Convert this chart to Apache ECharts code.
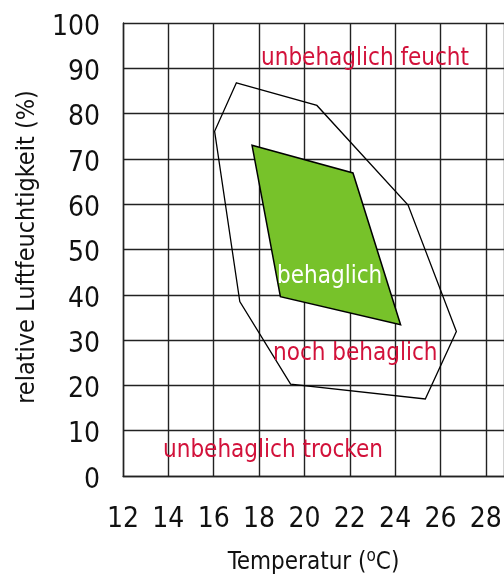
<!DOCTYPE html>
<html>
<head>
<meta charset="utf-8">
<script src="https://cdn.jsdelivr.net/npm/echarts@6/dist/echarts.min.js"></script>
<style>
  html, body { margin: 0; padding: 0; background: #fff; }
  #chart { width: 504px; height: 576px; }
</style>
</head>
<body>
<div id="chart"></div>
<script>
// Behaglichkeitsfeld: Temperatur / relative Luftfeuchte
var xTicks = [12, 14, 16, 18, 20, 22, 24, 26, 28]
var yTicks = [0, 10, 20, 30, 40, 50, 60, 70, 80, 90, 100]

// noch behaglich (Umriss)
var outerTemp = [17.0, 20.55, 24.57, 26.7, 25.33, 19.39, 17.15, 16.04]
var outerHum = [86.8, 81.8, 59.8, 31.9, 17.0, 20.3, 38.5, 76.1]

// behaglich (gruene Flaeche)
var comfortTemp = [17.69, 22.14, 24.24, 18.94]
var comfortHum = [73.0, 66.9, 33.4, 39.6]

var FONT = '"DejaVu Sans Condensed", "Liberation Sans Narrow", sans-serif'
var RED = '#d2113a'
var GRID_LINE = { color: '#222', width: 1.4 }

function polygonItem(xs, ys, style) {
  return function(params, api) {
    var pts = xs.map(function(x, i) {
      return api.coord([x, ys[i]])
    })
    return {
      type: 'polygon',
      shape: { points: pts },
      style: style
    }
  }
}

var chart = echarts.init(document.getElementById('chart'))
chart.setOption({
  backgroundColor: '#fff',
  animation: false,
  grid: {
    left: 123,
    top: 23,
    right: 0,
    bottom: 100,
    containLabel: false,
    outerBoundsMode: 'none'
  },
  xAxis: {
    type: 'value',
    min: 12,
    max: 28.8,
    interval: 2,
    name: '{t|Temperatur (}{s|o}{t|C)}',
    nameLocation: 'middle',
    nameGap: 72,
    nameTextStyle: {
      rich: {
        t: { fontFamily: FONT, fontSize: 24, color: '#111' },
        s: { fontFamily: FONT, fontSize: 17, color: '#111', verticalAlign: 'top', padding: [0, 0, 12, 0] }
      }
    },
    axisLine: { show: true, lineStyle: GRID_LINE },
    axisTick: { show: false },
    axisLabel: {
      margin: 30,
      fontFamily: FONT,
      fontSize: 28,
      color: '#111',
      formatter: function(v) {
        return xTicks.indexOf(v) >= 0 ? String(v) : ''
      }
    },
    splitLine: { show: true, lineStyle: GRID_LINE }
  },
  yAxis: {
    type: 'value',
    min: 0,
    max: 100,
    interval: 10,
    axisLine: { show: true, lineStyle: GRID_LINE },
    axisTick: { show: false },
    axisLabel: {
      margin: 23,
      color: '#111',
      formatter: function(v) {
        return yTicks.indexOf(v) >= 0 ? '{n|' + v + '}' : ''
      },
      rich: {
        n: { fontFamily: FONT, fontSize: 28, color: '#111', padding: [9, 0, 0, 0] }
      }
    },
    splitLine: { show: true, lineStyle: GRID_LINE }
  },
  series: [
    {
      type: 'custom',
      name: 'noch behaglich',
      data: [[outerTemp[0], outerHum[0]]],
      renderItem: polygonItem(outerTemp, outerHum, {
        fill: 'none',
        stroke: '#000',
        lineWidth: 1.3
      }),
      z: 3
    },
    {
      type: 'custom',
      name: 'behaglich',
      data: [[comfortTemp[0], comfortHum[0]]],
      renderItem: polygonItem(comfortTemp, comfortHum, {
        fill: '#77c22a',
        stroke: '#000',
        lineWidth: 1.5
      }),
      z: 4
    }
  ],
  graphic: [
    {
      type: 'text',
      x: 27,
      y: 247,
      rotation: Math.PI / 2,
      style: {
        text: 'relative Luftfeuchtigkeit (%)',
        fontFamily: FONT,
        fontSize: 25,
        fill: '#111',
        align: 'center',
        verticalAlign: 'middle'
      }
    },
    {
      type: 'text',
      x: 261,
      y: 59,
      z: 10,
      style: { text: 'unbehaglich feucht', fontFamily: FONT, fontSize: 24, fill: RED, verticalAlign: 'middle' }
    },
    {
      type: 'text',
      x: 163,
      y: 451,
      z: 10,
      style: { text: 'unbehaglich trocken', fontFamily: FONT, fontSize: 24, fill: RED, verticalAlign: 'middle' }
    },
    {
      type: 'text',
      x: 273,
      y: 354,
      z: 10,
      style: { text: 'noch behaglich', fontFamily: FONT, fontSize: 24, fill: RED, verticalAlign: 'middle' }
    },
    {
      type: 'text',
      x: 277,
      y: 277,
      z: 10,
      style: { text: 'behaglich', fontFamily: FONT, fontSize: 24, fill: '#fff', verticalAlign: 'middle' }
    }
  ]
})
</script>
</body>
</html>
